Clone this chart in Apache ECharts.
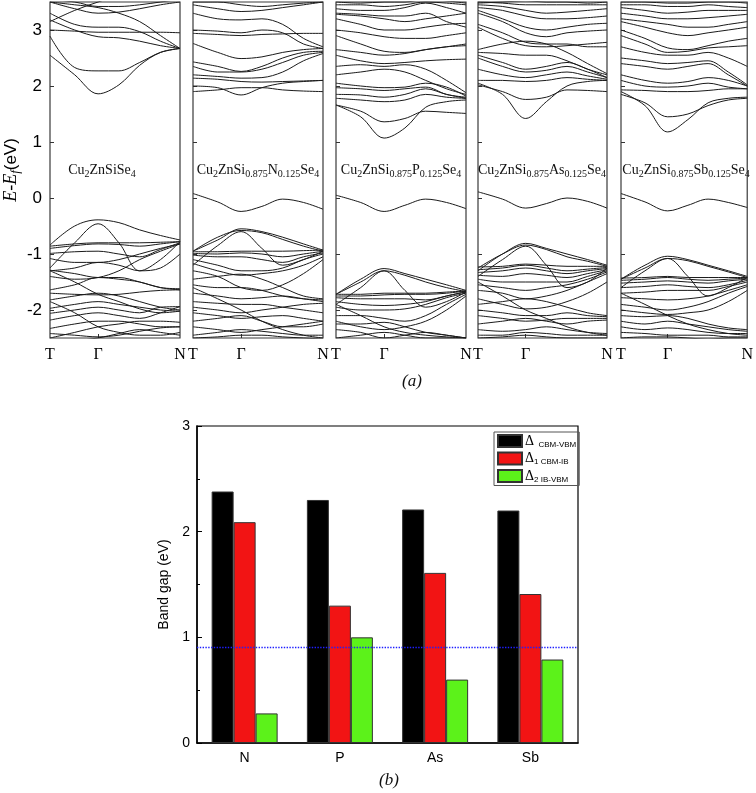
<!DOCTYPE html>
<html><head><meta charset="utf-8">
<script src="https://cdn.jsdelivr.net/npm/echarts@6/dist/echarts.min.js"></script>
<style>html,body{margin:0;padding:0;background:#fff}#c{width:756px;height:793px}</style>
</head><body><div id="c"></div>
<script>
// ---------- data: band structures (panel a) ----------
const kPath = [0, 0.19, 0.37, 0.53, 0.69, 0.85, 1];
const kTickValues = [0, 0.37, 1];
const kTickLabels = ['T', 'Γ', 'N'];
const energyTicks = [-2, -1, 0, 1, 2, 3];

const bandsCZSS = [
  [2.55, 2.2, 1.86, 2.02, 2.37, 2.6, 2.67],
  [2.89, 2.33, 2.27, 2.27, 2.42, 2.6, 2.67],
  [3.0, 2.98, 2.96, 2.96, 2.96, 2.96, 2.95],
  [3.18, 3.0, 2.88, 2.86, 2.8, 2.72, 2.67],
  [3.3, 3.1, 3.05, 3.05, 2.97, 2.8, 2.67],
  [3.5, 3.45, 3.4, 3.3, 3.15, 2.9, 2.67],
  [3.5, 3.38, 3.3, 3.32, 3.38, 3.45, 3.5],
  [3.55, 3.5, 3.42, 3.42, 3.45, 3.5, 3.55],
  [3.15, 3.35, 3.5, 3.6, 3.6, 3.6, 3.6],
  [-0.84, -0.5, -0.39, -0.44, -0.57, -0.67, -0.75],
  [-1.25, -0.8, -0.46, -0.8, -1.3, -1.1, -0.78],
  [-0.86, -0.82, -0.8, -0.8, -0.8, -0.79, -0.78],
  [-0.9, -0.85, -0.82, -0.83, -0.86, -0.82, -0.78],
  [-0.99, -0.96, -0.95, -1.0, -1.05, -0.92, -0.8],
  [-1.08, -1.15, -1.15, -1.1, -1.0, -0.9, -0.82],
  [-1.29, -1.35, -1.42, -1.42, -1.5, -1.6, -1.64],
  [-1.3, -1.25, -1.15, -1.2, -1.3, -1.25, -1.0],
  [-1.4, -1.45, -1.42, -1.3, -1.1, -0.95, -0.82],
  [-1.64, -1.55, -1.42, -1.45, -1.5, -1.6, -1.62],
  [-1.7, -1.72, -1.73, -1.72, -1.68, -1.65, -1.64],
  [-1.82, -1.75, -1.7, -1.75, -1.85, -1.95, -2.0],
  [-1.97, -1.9, -1.85, -1.9, -1.95, -2.0, -2.02],
  [-2.06, -2.0, -1.95, -2.0, -2.05, -1.95, -1.94],
  [-2.18, -2.1, -2.05, -2.1, -2.15, -2.05, -1.94],
  [-2.33, -2.25, -2.2, -2.2, -2.25, -2.3, -2.3],
  [-2.42, -2.45, -2.48, -2.45, -2.38, -2.32, -2.3],
  [-1.3, -1.5, -1.72, -1.85, -1.98, -2.05, -2.02],
  [-2.5, -2.4, -2.3, -2.25, -2.2, -2.2, -2.22],
  [-1.85, -2.05, -2.3, -2.4, -2.45, -2.45, -2.4],
  [-2.6, -2.55, -2.5, -2.42, -2.35, -2.4, -2.45]
];

const bandsN = [
  [1.9, 1.93, 1.97, 1.97, 1.93, 1.91, 1.9],
  [2.0, 1.97, 1.84, 1.97, 2.05, 2.08, 2.1],
  [2.14, 2.12, 2.08, 2.07, 2.08, 2.09, 2.1],
  [2.2, 2.17, 2.14, 2.15, 2.25, 2.45, 2.58],
  [2.35, 2.25, 2.25, 2.3, 2.42, 2.55, 2.6],
  [2.43, 2.35, 2.26, 2.35, 2.5, 2.6, 2.62],
  [2.76, 2.6, 2.49, 2.52, 2.6, 2.65, 2.67],
  [2.94, 2.92, 2.9, 2.92, 2.93, 2.94, 2.94],
  [3.0, 2.98, 2.95, 3.0, 2.95, 2.75, 2.67],
  [3.3, 3.2, 3.18, 3.2, 3.1, 2.85, 2.7],
  [3.45, 3.38, 3.33, 3.35, 3.4, 3.45, 3.5],
  [3.5, 3.5, 3.45, 3.42, 3.45, 3.48, 3.5],
  [0.08, -0.07, -0.24, -0.15, -0.02, -0.08, -0.2],
  [-0.95, -0.75, -0.55, -0.6, -0.7, -0.82, -0.93],
  [-0.95, -0.7, -0.58, -0.62, -0.74, -0.86, -0.95],
  [-1.2, -0.85, -0.6, -0.9, -1.2, -1.1, -0.95],
  [-0.96, -0.96, -0.95, -0.95, -0.95, -0.94, -0.93],
  [-0.99, -1.0, -0.98, -1.0, -1.05, -1.0, -0.95],
  [-1.02, -1.05, -1.05, -1.1, -1.15, -1.05, -0.98],
  [-1.1, -1.2, -1.3, -1.3, -1.25, -1.1, -1.0],
  [-1.17, -1.3, -1.38, -1.35, -1.3, -1.2, -1.05],
  [-1.3, -1.4, -1.6, -1.65, -1.55, -1.35, -1.1],
  [-1.45, -1.4, -1.36, -1.45, -1.6, -1.75, -1.8],
  [-1.55, -1.6, -1.6, -1.65, -1.75, -1.8, -1.82],
  [-1.7, -1.75, -1.8, -1.78, -1.75, -1.8, -1.85],
  [-1.85, -1.88, -1.9, -1.9, -1.95, -2.0, -2.05],
  [-1.95, -2.0, -2.05, -2.0, -1.95, -1.9, -1.88],
  [-2.05, -2.1, -2.15, -2.12, -2.1, -2.15, -2.2],
  [-2.2, -2.15, -2.1, -2.2, -2.3, -2.3, -2.25],
  [-2.3, -2.35, -2.4, -2.35, -2.3, -2.25, -2.2],
  [-2.45, -2.4, -2.35, -2.38, -2.42, -2.45, -2.45],
  [-1.6, -1.8, -2.0, -2.2, -2.35, -2.45, -2.5],
  [-2.5, -2.48, -2.45, -2.45, -2.48, -2.5, -2.52]
];

const bandsP = [
  [1.66, 1.45, 1.07, 1.25, 1.62, 1.72, 1.75],
  [1.66, 1.55, 1.36, 1.42, 1.55, 1.53, 1.51],
  [1.78, 1.75, 1.72, 1.75, 1.85, 1.8, 1.78],
  [1.85, 1.84, 1.8, 1.85, 1.95, 1.85, 1.78],
  [1.97, 1.95, 1.92, 1.95, 1.98, 1.85, 1.8],
  [2.05, 2.0, 1.97, 1.98, 2.05, 1.98, 1.82],
  [2.2, 2.25, 2.3, 2.25, 2.1, 1.95, 1.85],
  [2.35, 2.38, 2.35, 2.38, 2.3, 2.1, 1.88],
  [2.55, 2.45, 2.4, 2.42, 2.45, 2.47, 2.48],
  [2.65, 2.6, 2.55, 2.58, 2.65, 2.7, 2.72],
  [2.9, 2.75, 2.62, 2.6, 2.65, 2.7, 2.75],
  [3.0, 2.95, 2.88, 2.85, 2.85, 2.9, 2.95],
  [3.2, 3.1, 3.0, 3.0, 3.05, 3.1, 3.12],
  [3.28, 3.25, 3.2, 3.15, 3.2, 3.25, 3.3],
  [3.3, 3.28, 3.25, 3.25, 3.3, 3.15, 3.05],
  [3.38, 3.35, 3.35, 3.4, 3.48, 3.4, 3.3],
  [3.45, 3.45, 3.42, 3.45, 3.5, 3.48, 3.45],
  [3.5, 3.48, 3.5, 3.5, 3.55, 3.52, 3.48],
  [0.05, -0.08, -0.24, -0.13, -0.02, -0.08, -0.19],
  [-1.72, -1.45, -1.26, -1.35, -1.45, -1.55, -1.65],
  [-1.72, -1.5, -1.3, -1.38, -1.5, -1.6, -1.67],
  [-1.9, -1.6, -1.3, -1.65, -1.95, -1.85, -1.68],
  [-1.72, -1.72, -1.7, -1.7, -1.7, -1.68, -1.66],
  [-1.75, -1.75, -1.73, -1.72, -1.72, -1.7, -1.66],
  [-1.78, -1.8, -1.8, -1.8, -1.82, -1.75, -1.67],
  [-1.85, -1.9, -1.92, -1.9, -1.85, -1.75, -1.68],
  [-1.95, -2.0, -2.0, -1.98, -1.9, -1.78, -1.7],
  [-2.1, -2.1, -2.15, -2.2, -2.1, -1.9, -1.72],
  [-2.2, -2.3, -2.35, -2.3, -2.2, -2.0, -1.75],
  [-2.25, -2.25, -2.22, -2.3, -2.4, -2.45, -2.5],
  [-2.35, -2.4, -2.5, -2.45, -2.4, -2.45, -2.5],
  [-2.5, -2.45, -2.4, -2.45, -2.5, -2.5, -2.5],
  [-1.9, -2.1, -2.3, -2.4, -2.45, -2.48, -2.5]
];

const bandsAs = [
  [2.05, 1.85, 1.42, 1.72, 2.0, 2.08, 2.1],
  [2.02, 1.9, 1.76, 1.8, 1.93, 1.92, 1.9],
  [2.1, 2.1, 2.08, 2.1, 2.15, 2.12, 2.1],
  [2.3, 2.2, 2.15, 2.2, 2.25, 2.18, 2.12],
  [2.5, 2.35, 2.25, 2.28, 2.35, 2.25, 2.15],
  [2.55, 2.42, 2.3, 2.35, 2.42, 2.3, 2.15],
  [2.6, 2.58, 2.55, 2.55, 2.45, 2.3, 2.2],
  [2.65, 2.75, 2.8, 2.75, 2.6, 2.4, 2.22],
  [3.05, 2.85, 2.72, 2.7, 2.72, 2.75, 2.78],
  [3.1, 2.95, 2.78, 2.75, 2.75, 2.7, 2.7],
  [3.3, 3.15, 2.95, 2.88, 2.95, 2.98, 3.0],
  [3.35, 3.2, 3.05, 3.0, 3.05, 3.1, 3.12],
  [3.4, 3.35, 3.25, 3.2, 3.2, 3.22, 3.25],
  [3.45, 3.42, 3.35, 3.3, 3.32, 3.35, 3.38],
  [3.5, 3.48, 3.45, 3.45, 3.45, 3.45, 3.45],
  [3.48, 3.5, 3.52, 3.5, 3.5, 3.48, 3.5],
  [0.11, -0.02, -0.18, -0.1, 0.0, -0.06, -0.18],
  [-1.3, -1.0, -0.81, -0.9, -1.0, -1.1, -1.2],
  [-1.25, -1.0, -0.84, -0.92, -1.05, -1.13, -1.22],
  [-1.4, -1.1, -0.86, -1.2, -1.6, -1.5, -1.25],
  [-1.23, -1.22, -1.18, -1.2, -1.22, -1.22, -1.22],
  [-1.28, -1.25, -1.2, -1.25, -1.3, -1.27, -1.24],
  [-1.33, -1.3, -1.25, -1.3, -1.35, -1.3, -1.26],
  [-1.38, -1.4, -1.35, -1.38, -1.42, -1.35, -1.28],
  [-1.45, -1.5, -1.5, -1.5, -1.5, -1.4, -1.3],
  [-1.55, -1.6, -1.65, -1.6, -1.55, -1.45, -1.32],
  [-1.65, -1.7, -1.8, -1.75, -1.65, -1.5, -1.35],
  [-1.8, -1.9, -1.98, -1.95, -1.85, -1.7, -1.5],
  [-1.9, -1.85, -1.8, -1.85, -1.95, -2.05, -2.1],
  [-2.0, -2.05, -2.1, -2.1, -2.05, -2.1, -2.12],
  [-2.1, -2.15, -2.2, -2.18, -2.15, -2.15, -2.15],
  [-2.25, -2.2, -2.15, -2.2, -2.25, -2.2, -2.18],
  [-2.35, -2.38, -2.35, -2.3, -2.35, -2.4, -2.42],
  [-2.45, -2.45, -2.4, -2.42, -2.45, -2.45, -2.45],
  [-1.5, -1.75, -2.0, -2.15, -2.3, -2.4, -2.45],
  [-2.5, -2.48, -2.45, -2.48, -2.5, -2.5, -2.5]
];

const bandsSb = [
  [1.9, 1.65, 1.18, 1.4, 1.7, 1.78, 1.8],
  [1.85, 1.7, 1.45, 1.5, 1.65, 1.75, 1.78],
  [1.93, 1.92, 1.9, 1.9, 1.92, 1.95, 1.95],
  [2.1, 2.0, 1.98, 2.0, 2.05, 1.98, 1.95],
  [2.2, 2.1, 2.05, 2.08, 2.15, 2.1, 2.0],
  [2.4, 2.35, 2.3, 2.35, 2.4, 2.2, 2.0],
  [2.5, 2.45, 2.4, 2.42, 2.45, 2.25, 2.02],
  [2.7, 2.6, 2.55, 2.55, 2.6, 2.5, 2.35],
  [2.9, 2.75, 2.6, 2.62, 2.68, 2.7, 2.72],
  [3.0, 2.85, 2.68, 2.65, 2.72, 2.8, 2.85],
  [3.15, 3.05, 2.95, 2.9, 2.95, 3.0, 3.05],
  [3.2, 3.15, 3.1, 3.05, 3.05, 3.1, 3.15],
  [3.3, 3.25, 3.2, 3.2, 3.22, 3.25, 3.28],
  [3.4, 3.35, 3.3, 3.32, 3.35, 3.35, 3.35],
  [3.45, 3.45, 3.42, 3.42, 3.45, 3.42, 3.4],
  [3.5, 3.5, 3.48, 3.48, 3.5, 3.5, 3.48],
  [0.08, -0.07, -0.23, -0.13, -0.02, -0.08, -0.17],
  [-1.45, -1.2, -1.04, -1.1, -1.2, -1.3, -1.4],
  [-1.45, -1.25, -1.08, -1.12, -1.22, -1.32, -1.42],
  [-1.6, -1.3, -1.08, -1.4, -1.75, -1.6, -1.42],
  [-1.43, -1.42, -1.4, -1.42, -1.42, -1.42, -1.42],
  [-1.47, -1.45, -1.42, -1.45, -1.47, -1.45, -1.43],
  [-1.52, -1.5, -1.48, -1.5, -1.52, -1.48, -1.45],
  [-1.6, -1.58, -1.55, -1.58, -1.6, -1.55, -1.47],
  [-1.7, -1.68, -1.65, -1.65, -1.65, -1.58, -1.5],
  [-1.78, -1.8, -1.82, -1.8, -1.75, -1.65, -1.55],
  [-1.9, -1.95, -2.0, -1.95, -1.85, -1.7, -1.58],
  [-2.0, -2.05, -2.08, -2.05, -2.0, -1.85, -1.65],
  [-2.1, -2.12, -2.1, -2.15, -2.25, -2.32, -2.35],
  [-2.2, -2.25, -2.2, -2.25, -2.3, -2.35, -2.38],
  [-2.3, -2.35, -2.32, -2.35, -2.4, -2.42, -2.42],
  [-2.4, -2.42, -2.45, -2.45, -2.45, -2.48, -2.48],
  [-1.7, -1.9, -2.1, -2.25, -2.35, -2.42, -2.45],
  [-2.5, -2.48, -2.48, -2.5, -2.52, -2.5, -2.5]
];

const panelBands = [bandsCZSS, bandsN, bandsP, bandsAs, bandsSb];
const panelLabels = [
  '{m|Cu}{s|2}{m|ZnSiSe}{s|4}',
  '{m|Cu}{s|2}{m|ZnSi}{s|0.875}{m|N}{s|0.125}{m|Se}{s|4}',
  '{m|Cu}{s|2}{m|ZnSi}{s|0.875}{m|P}{s|0.125}{m|Se}{s|4}',
  '{m|Cu}{s|2}{m|ZnSi}{s|0.875}{m|As}{s|0.125}{m|Se}{s|4}',
  '{m|Cu}{s|2}{m|ZnSi}{s|0.875}{m|Sb}{s|0.125}{m|Se}{s|4}'
];

// ---------- data: band gaps (panel b) ----------
const gapCategories = ['N', 'P', 'As', 'Sb'];
const gapCbmVbm = [2.38, 2.30, 2.21, 2.20];
const gapCbmIb = [2.09, 1.30, 1.61, 1.41];
const gapIbVbm = [0.28, 1.00, 0.60, 0.79];
const refLevel = 0.91;
const gapSeriesNames = ['Δ CBM-VBM', 'Δ1 CBM-IB', 'Δ2 IB-VBM'];
const gapLegendText = ['{d|Δ}{s|  CBM-VBM}', '{d|Δ}{s|1 CBM-IB}', '{d|Δ}{s|2 IB-VBM}'];

// ---------- layout ----------
const panelBoxes = [
  {left: 50, width: 130, cx: 102},
  {left: 193, width: 130, cx: 258},
  {left: 336, width: 130, cx: 401},
  {left: 478, width: 129, cx: 542},
  {left: 621, width: 131, cx: 686}
];
const serif = 'Liberation Serif';
const sans = 'Liberation Sans';

const grid = [], xAxis = [], yAxis = [], series = [], graphic = [];

panelBoxes.forEach((b, i) => {
  grid.push({left: b.left, width: b.width, top: 2, height: 336, show: true,
    borderColor: '#3a3a3a', borderWidth: 1.2, backgroundColor: 'transparent'});
  xAxis.push({type: 'value', gridIndex: i, min: 0, max: 1, position: 'bottom',
    axisLine: {show: false, onZero: false}, splitLine: {show: false},
    axisTick: {show: true, inside: true, length: 4, customValues: [kTickValues[1]], lineStyle: {color: '#333'}},
    axisLabel: {show: true, customValues: kTickValues, formatter: v => kTickLabels[kTickValues.indexOf(v)] || '',
      fontFamily: serif, fontSize: 16, color: '#000', margin: 9}
  });
  const ya = {type: 'value', gridIndex: i, min: -2.5, max: 3.5, position: 'left',
    axisLine: {show: false, onZero: false}, splitLine: {show: false},
    axisTick: {show: true, inside: true, length: 4, customValues: energyTicks, lineStyle: {color: '#333'}},
    axisLabel: {show: i === 0, customValues: energyTicks, fontFamily: sans, fontSize: 17, color: '#000', margin: 8}
  };
  if (i === 0) {
    ya.name = '{i|E-E}{f|f}{n|(eV)}';
    ya.nameLocation = 'middle';
    ya.nameGap = 28;
    ya.nameTextStyle = {rich: {
      i: {fontFamily: serif, fontStyle: 'italic', fontSize: 18, lineHeight: 22, color: '#000'},
      f: {fontFamily: serif, fontStyle: 'italic', fontSize: 13, lineHeight: 13, verticalAlign: 'bottom', color: '#000'},
      n: {fontFamily: sans, fontSize: 17, lineHeight: 22, color: '#000'}
    }};
  }
  yAxis.push(ya);
  panelBands[i].forEach(band => {
    series.push({type: 'line', xAxisIndex: i, yAxisIndex: i, smooth: 0.35, symbol: 'none', silent: true,
      clip: true, lineStyle: {color: '#1a1a1a', width: 1}, data: kPath.map((k, j) => [k, band[j]])});
  });
  graphic.push({type: 'text', x: b.cx, y: 170, silent: true,
    style: {text: panelLabels[i], align: 'center', verticalAlign: 'middle',
      rich: {
        m: {fontFamily: serif, fontSize: 14, lineHeight: 18, fill: '#111'},
        s: {fontFamily: serif, fontSize: 10, lineHeight: 10, verticalAlign: 'bottom', fill: '#111'}
      }}});
});

// bottom chart
grid.push({left: 197, top: 426, width: 381, height: 317, show: true, borderColor: '#000', borderWidth: 1.2});
xAxis.push({type: 'category', gridIndex: 5, data: gapCategories,
  axisLine: {lineStyle: {color: '#000', width: 1.5}}, axisTick: {show: false},
  axisLabel: {fontFamily: sans, fontSize: 14, color: '#000', margin: 8}});
yAxis.push({type: 'value', gridIndex: 5, min: 0, max: 3, interval: 1,
  name: 'Band gap (eV)', nameLocation: 'middle', nameGap: 26,
  nameTextStyle: {fontFamily: sans, fontSize: 14, color: '#000'},
  axisLine: {show: true, lineStyle: {color: '#000', width: 1.5}},
  axisTick: {show: true, inside: true, length: 5, lineStyle: {color: '#000'}},
  minorTick: {show: true, splitNumber: 2, length: 3, lineStyle: {color: '#000'}},
  splitLine: {show: false},
  axisLabel: {fontFamily: sans, fontSize: 14, color: '#000', margin: 7}});

const gapData = [gapCbmVbm, gapCbmIb, gapIbVbm];
const gapColors = ['#000000', '#f21414', '#5cf21a'];
gapData.forEach((vals, s) => {
  const ser = {type: 'bar', name: gapSeriesNames[s], xAxisIndex: 5, yAxisIndex: 5,
    data: vals, barWidth: 22, barGap: '0%', silent: true,
    itemStyle: {color: gapColors[s], borderColor: '#333', borderWidth: 1}};
  if (s === 0) {
    ser.markLine = {silent: true, symbol: 'none', label: {show: false},
      lineStyle: {color: '#1f1fff', type: 'dotted', width: 1.4},
      data: [{yAxis: refLevel}]};
  }
  series.push(ser);
});

graphic.push({type: 'text', x: 412, y: 382, silent: true,
  style: {text: '(a)', align: 'center', verticalAlign: 'middle', font: 'italic 17px "Liberation Serif"', fill: '#111'}});
graphic.push({type: 'text', x: 389, y: 781, silent: true,
  style: {text: '(b)', align: 'center', verticalAlign: 'middle', font: 'italic 17px "Liberation Serif"', fill: '#111'}});

const chart = echarts.init(document.getElementById('c'), null, {renderer: 'canvas'});
chart.setOption({
  animation: false,
  backgroundColor: '#fff',
  grid, xAxis, yAxis, series, graphic,
  legend: {
    data: gapSeriesNames, orient: 'vertical', left: 494, top: 432,
    itemWidth: 24, itemHeight: 12, itemGap: 3,
    borderColor: '#555', borderWidth: 1, padding: [2, 3, 2, 3],
    icon: 'rect', selectedMode: false,
    formatter: name => gapLegendText[gapSeriesNames.indexOf(name)],
    textStyle: {padding: [0, 0, 0, -2], rich: {
      d: {fontFamily: serif, fontSize: 14, lineHeight: 15, color: '#000'},
      s: {fontFamily: sans, fontSize: 8, lineHeight: 8, verticalAlign: 'bottom', color: '#000'}
    }}
  }
});
</script>
</body></html>
